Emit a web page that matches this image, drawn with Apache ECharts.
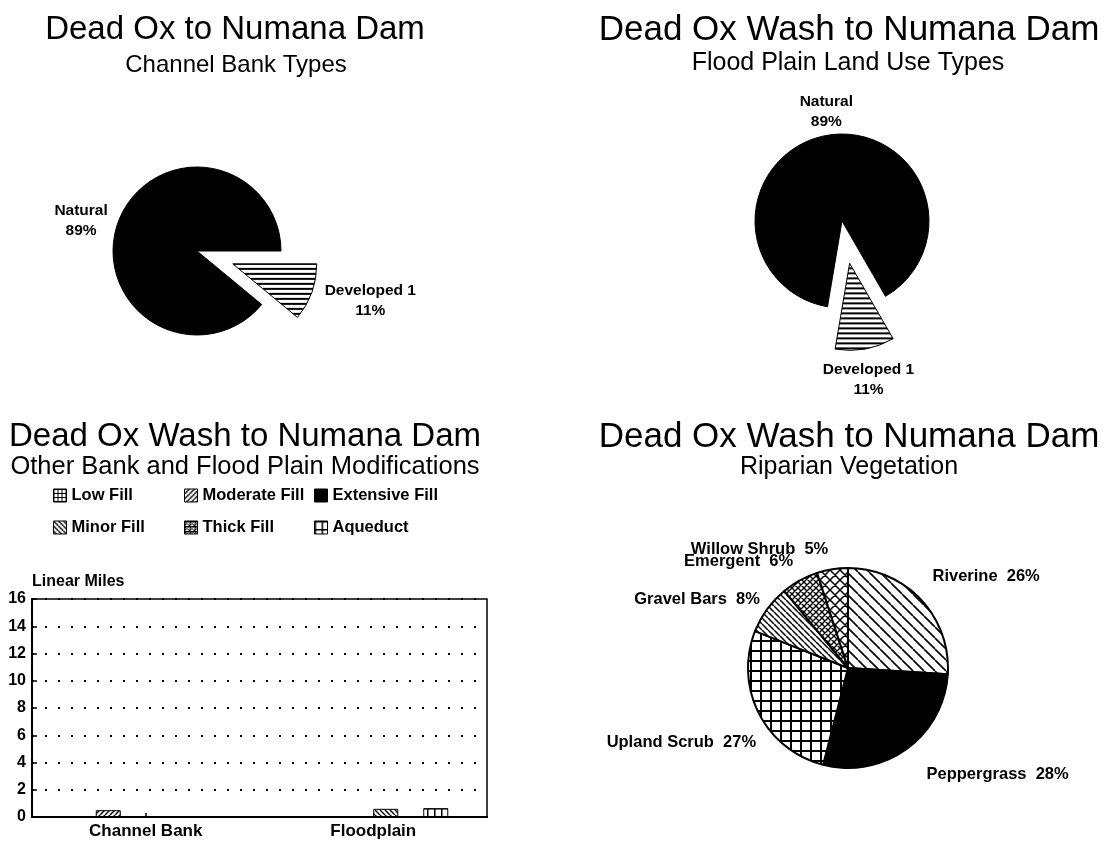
<!DOCTYPE html>
<html><head><meta charset="utf-8">
<script src="https://cdn.jsdelivr.net/npm/echarts@6/dist/echarts.min.js"></script>
<style>html,body{margin:0;padding:0;background:#fff}#c{width:1107px;height:842px}</style>
</head><body><div id="c"></div>
<script>
// ---------------- data ----------------
const bankTypeNames = ['Developed 1', 'Natural'];
const bankTypeShares = [11, 89];

const plainUseNames = ['Developed 1', 'Natural'];
const plainUseShares = [11, 89];

const modCategories = ['Channel Bank', 'Floodplain'];
const modSeriesNames = ['Low Fill', 'Moderate Fill', 'Extensive Fill', 'Minor Fill', 'Thick Fill', 'Aqueduct'];
const lowFill = [0, 0];
const moderateFill = [0.5, 0];
const extensiveFill = [0, 0];
const minorFill = [0, 0.6];
const thickFill = [0, 0];
const aqueduct = [0, 0.65];
const milesAxisMin = 0, milesAxisMax = 16, milesAxisStep = 2;

const vegNames = ['Riverine', 'Peppergrass', 'Upland Scrub', 'Gravel Bars', 'Emergent', 'Willow Shrub'];
const vegShares = [26, 28, 27, 8, 6, 5];

// ---------------- styles ----------------
const FONT = "'Liberation Sans', Arial, Helvetica, sans-serif";

function tile(w, h, draw) {
  const c = document.createElement('canvas');
  c.width = w; c.height = h;
  const g = c.getContext('2d');
  g.fillStyle = '#fff'; g.fillRect(0, 0, w, h);
  g.fillStyle = '#000'; g.strokeStyle = '#000';
  draw(g, w, h);
  return { image: c, repeat: 'repeat' };
}
function backDiag(s, lw) {
  return tile(s, s, g => { g.lineWidth = lw; g.beginPath();
    for (const k of [-s, 0, s]) { g.moveTo(k, 0); g.lineTo(k + s, s); } g.stroke(); });
}
function fwdDiag(s, lw) {
  return tile(s, s, g => { g.lineWidth = lw; g.beginPath();
    for (const k of [-s, 0, s]) { g.moveTo(k, s); g.lineTo(k + s, 0); } g.stroke(); });
}
function crossDiag(s, lw) {
  return tile(s, s, g => { g.lineWidth = lw; g.beginPath();
    for (const k of [-s, 0, s]) { g.moveTo(k, 0); g.lineTo(k + s, s); g.moveTo(k, s); g.lineTo(k + s, 0); } g.stroke(); });
}
function gridTile(w, h, lw) {
  return tile(w, h, g => { g.fillRect(0, 0, w, lw); g.fillRect(0, 0, lw, h); });
}
function hLines(w, h, lw) {
  return tile(w, h, g => { g.fillRect(0, 0, w, lw); });
}
function thickTile(s) {
  return tile(s, s, g => { g.fillRect(0, 0, s, 1); g.fillRect(0, 0, 1, s);
    g.lineWidth = 1; g.beginPath(); g.moveTo(0, 0); g.lineTo(s, s); g.moveTo(0, s); g.lineTo(s, 0); g.stroke(); });
}

const devFill = hLines(4, 5, 2);
const bankFills = [devFill, '#000'];
const plainFills = [devFill, '#000'];
const barFills = [gridTile(4, 4, 1), fwdDiag(5, 1.4), '#000', backDiag(5, 1.4), thickTile(5), gridTile(7, 8, 1.5)];
const vegFills = [backDiag(11, 1.6), '#000', gridTile(10, 10, 2), backDiag(6, 1.5), crossDiag(6, 1.4), crossDiag(10, 1.5)];

const bankLabelLen = [59, 36], bankNudge = [[3, -12], [-3, 10]];
const plainLabelLen = [31, 24], plainNudge = [[-2, 0], [4, 0]];
const vegNudge = [[-7, -9], [4, 9], [19, 20], [13, 2], [7, -1], [3, 0]];

// legend placement: [left, top] per series
const legendSpots = [[53, 487], [184, 487], [314, 487], [53, 519], [184, 519], [314, 519]];

function pieData(names, values, fills, lens) {
  return names.map((n, i) => ({
    name: n, value: values[i], selected: i === 0,
    itemStyle: { color: fills[i] },
    labelLine: { show: false, length: lens ? lens[i] : 20, length2: 0 }
  }));
}

const lbl = { color: '#000', fontFamily: FONT, fontWeight: 'bold' };

const titles = [
  ['Dead Ox to Numana Dam', 235, 30, 33],
  ['Channel Bank Types', 236, 65, 24],
  ['Dead Ox Wash to Numana Dam', 849, 30, 35],
  ['Flood Plain Land Use Types', 848, 63, 25],
  ['Dead Ox Wash to Numana Dam', 245, 437, 33],
  ['Other Bank and Flood Plain Modifications', 245, 467, 25.5],
  ['Dead Ox Wash to Numana Dam', 849, 437, 35],
  ['Riparian Vegetation', 849, 467, 25]
].map(t => ({
  text: t[0], left: t[1], top: t[2], textAlign: 'center', textVerticalAlign: 'middle', padding: 0,
  textStyle: { color: '#000', fontFamily: FONT, fontWeight: 'normal', fontSize: t[3] }
}));

const legends = modSeriesNames.map((n, i) => ({
  data: [n], left: legendSpots[i][0], top: legendSpots[i][1], orient: 'horizontal', padding: 0,
  itemWidth: 13, itemHeight: 13, icon: 'rect', selectedMode: false,
  itemStyle: { borderColor: '#000', borderWidth: 1 },
  textStyle: Object.assign({ fontSize: 16.5 }, lbl)
}));

const modValues = [lowFill, moderateFill, extensiveFill, minorFill, thickFill, aqueduct];

const option = {
  backgroundColor: '#fff',
  animation: false,
  textStyle: { fontFamily: FONT },
  title: titles,
  legend: legends,
  grid: { left: 32, top: 599, width: 455, height: 218, show: true, borderColor: '#000', borderWidth: 1.5 },
  xAxis: {
    type: 'category', data: modCategories,
    axisLine: { lineStyle: { color: '#000', width: 2 } },
    axisTick: { show: true, inside: true, alignWithLabel: true, length: 4, lineStyle: { color: '#000', width: 1.5 } },
    axisLabel: Object.assign({ fontSize: 17, margin: 6 }, lbl)
  },
  yAxis: {
    type: 'value', min: milesAxisMin, max: milesAxisMax, interval: milesAxisStep,
    name: 'Linear Miles', nameLocation: 'end', nameGap: 17,
    nameTextStyle: Object.assign({ fontSize: 16, align: 'left', verticalAlign: 'middle' }, lbl),
    axisLine: { show: true, lineStyle: { color: '#000', width: 2 } },
    axisTick: { show: true, inside: true, length: 5, lineStyle: { color: '#000', width: 1.5 } },
    axisLabel: Object.assign({ fontSize: 16, margin: 6 }, lbl),
    splitLine: { show: true, lineStyle: { color: '#000', type: [2, 11], width: 2 } }
  },
  series: [
    {
      type: 'pie', name: 'Channel Bank Types', center: [197, 251], radius: 84,
      startAngle: 0, clockwise: true, selectedMode: 'multiple', selectedOffset: 38,
      avoidLabelOverlap: false,
      itemStyle: { borderColor: '#000', borderWidth: 1 },
      label: Object.assign({ show: true, position: 'outside', formatter: '{b}\n{c}%', fontSize: 15.5, lineHeight: 20, distanceToLabelLine: 0 }, lbl),
      labelLayout: p => ({ align: 'center', verticalAlign: 'middle', dx: bankNudge[p.dataIndex][0], dy: bankNudge[p.dataIndex][1] }),
      emphasis: { disabled: true },
      data: pieData(bankTypeNames, bankTypeShares, bankFills, bankLabelLen)
    },
    {
      type: 'pie', name: 'Flood Plain Land Use Types', center: [842, 221], radius: 87,
      startAngle: -60, clockwise: true, selectedMode: 'multiple', selectedOffset: 43,
      avoidLabelOverlap: false,
      itemStyle: { borderColor: '#000', borderWidth: 1 },
      label: Object.assign({ show: true, position: 'outside', formatter: '{b}\n{c}%', fontSize: 15.5, lineHeight: 20, distanceToLabelLine: 0 }, lbl),
      labelLayout: p => ({ align: 'center', verticalAlign: 'middle', dx: plainNudge[p.dataIndex][0], dy: plainNudge[p.dataIndex][1] }),
      emphasis: { disabled: true },
      data: pieData(plainUseNames, plainUseShares, plainFills, plainLabelLen)
    },
    {
      type: 'pie', name: 'Riparian Vegetation', center: [848, 668], radius: 100,
      startAngle: 90, clockwise: true, avoidLabelOverlap: false,
      itemStyle: { borderColor: '#000', borderWidth: 2 },
      label: Object.assign({ show: true, position: 'outside', formatter: '{b}  {c}%', fontSize: 16.5, distanceToLabelLine: 4 }, lbl),
      labelLine: { show: false, length: 20, length2: 0 },
      labelLayout: p => ({ dx: vegNudge[p.dataIndex][0], dy: vegNudge[p.dataIndex][1] }),
      emphasis: { disabled: true },
      data: vegNames.map((n, i) => ({ name: n, value: vegShares[i], itemStyle: { color: vegFills[i] } }))
    }
  ].concat(modSeriesNames.map((n, i) => ({
    type: 'bar', name: n, data: modValues[i], barWidth: 25, barGap: '0%',
    itemStyle: { color: barFills[i], borderColor: '#000', borderWidth: 1 },
    emphasis: { disabled: true }
  })))
};

const chart = echarts.init(document.getElementById('c'), null, { renderer: 'canvas' });
chart.setOption(option);
</script>
</body></html>
